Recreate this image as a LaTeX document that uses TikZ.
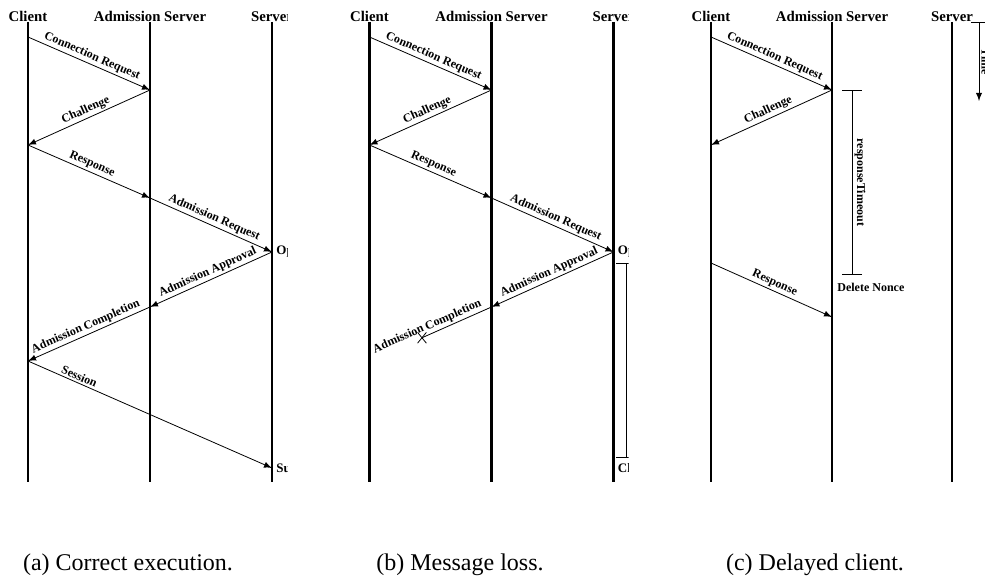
\documentclass[tikz,border=0pt]{standalone}
\usepackage{fontspec}
\setmainfont{Liberation Serif}
\usetikzlibrary{arrows.meta,shapes.misc}

\tikzstyle{head} = [font=\bfseries\fontsize{7.4}{8}\selectfont, anchor=south, inner sep=0pt]
\tikzstyle{life} = [draw, line width=1.1pt]
\tikzstyle{line} = [draw, line width=0.4pt, -latex]
\tikzstyle{msg} = [font=\bfseries\fontsize{6}{7}\selectfont, sloped, above, inner sep=1pt]
\tikzstyle{event} = [font=\bfseries\fontsize{6.5}{7}\selectfont, anchor=west, inner sep=0pt, xshift=2pt]
\tikzstyle{timer} = [draw, line width=0.5pt, {Bar[width=10pt]}-{Bar[width=10pt]}]
\tikzstyle{dropped} = [draw, cross out, line width=0.4pt, minimum width=4pt, minimum height=5pt, inner sep=0pt]
\tikzstyle{caption} = [font=\fontsize{12}{14}\selectfont]

\begin{document}
\begin{tikzpicture}[x=0.5pt, y=-0.5pt]
\useasboundingbox (0,0) rectangle (985,588);

% (a) correct execution
\begin{scope}[name prefix=a-]
\clip (0,0) rectangle (287,530);
\node [head] (client) at (28,22) {Client};
\node [head] (adm) at (150,22) {Admission Server};
\node [head] (server) at (272,22) {Server};
\foreach \y [count=\i from 0] in {37,90,145,198,252,307,361,468,482}
  \coordinate (t\i) at (0,\y);
\foreach \n in {client,adm,server}
  \path [life] (\n.south) -- (\n |- t8);

\path [line] (client |- t0) -- node [msg] {Connection Request} (adm |- t1);
\path [line] (adm |- t1) -- node [msg] {Challenge} (client |- t2);
\path [line] (client |- t2) -- node [msg] {Response} (adm |- t3);
\path [line] (adm |- t3) -- node [msg] {Admission Request} (server |- t4);
\path [line] (server |- t4) -- node [msg] {Admission Approval} (adm |- t5);
\path [line] (adm |- t5) -- node [msg] {Admission Completion} (client |- t6);
\path [line] (client |- t6) -- node [msg, pos=0.2] {Session} (server |- t7);
\node [event] (open) at (server |- t4) {Op};
\node [event] (start) at (server |- t7) {Su};
\end{scope}

% (b) message loss
\begin{scope}[shift={(341.5,0)}, name prefix=b-]
\clip (0,0) rectangle (287,530);
\node [head] (client) at (28,22) {Client};
\node [head] (adm) at (150,22) {Admission Server};
\node [head] (server) at (272,22) {Server};
\foreach \y [count=\i from 0] in {37,90,145,198,252,307,361,468,482}
  \coordinate (t\i) at (0,\y);
\foreach \n in {client,adm,server}
  \path [life] (\n.south) -- (\n |- t8);

\path [line] (client |- t0) -- node [msg] {Connection Request} (adm |- t1);
\path [line] (adm |- t1) -- node [msg] {Challenge} (client |- t2);
\path [line] (client |- t2) -- node [msg] {Response} (adm |- t3);
\path [line] (adm |- t3) -- node [msg] {Admission Request} (server |- t4);
\path [line] (server |- t4) -- node [msg] {Admission Approval} (adm |- t5);
\path (adm |- t5) -- node [msg] {Admission Completion} coordinate [pos=0.57] (cut) (client |- t6);
\path [draw, line width=0.4pt] (adm |- t5) -- (cut);
\node [dropped] (drop) at (cut) {};
\node [event] (open) at (server |- t4) {Op};
\coordinate (w0) at (284.5,263);
\coordinate (w1) at (284.5,458);
\path [timer] (w0) -- (w1);
\node [event] (close) at (server |- t7) {Cl};
\end{scope}

% (c) delayed client
\begin{scope}[shift={(682,0)}, name prefix=c-]
\clip (0,0) rectangle (303,530);
\node [head] (client) at (29,22) {Client};
\node [head] (adm) at (150,22) {Admission Server};
\node [head] (server) at (270,22) {Server};
\foreach \y [count=\i from 0] in {37,90,145,263,317,482}
  \coordinate (t\i) at (0,\y);
\foreach \n in {client,adm,server}
  \path [life] (\n.south) -- (\n |- t5);

\path [line] (client |- t0) -- node [msg] {Connection Request} (adm |- t1);
\path [line] (adm |- t1) -- node [msg] {Challenge} (client |- t2);
\path [line] (client |- t3) -- node [msg] {Response} (adm |- t4);

\coordinate (k0) at (170,90);
\coordinate (k1) at (170,275);
\path [timer] (k0) -- node [msg] {responseTimeout} (k1);
\node [font=\bfseries\fontsize{6}{7}\selectfont, anchor=north west, inner sep=0pt] (delete) at (155,283) {Delete Nonce};

\coordinate (time0) at (297,22);
\coordinate (time1) at (297,101);
\path [draw, line width=0.4pt, {Bar[width=8pt]}-latex] (time0) -- node [msg] {Time} (time1);
\end{scope}

\node [caption] (cap-a) at (128,565) {(a) Correct execution.};
\node [caption] (cap-b) at (460,565) {(b) Message loss.};
\node [caption] (cap-c) at (815,565) {(c) Delayed client.};
\end{tikzpicture}
\end{document}
